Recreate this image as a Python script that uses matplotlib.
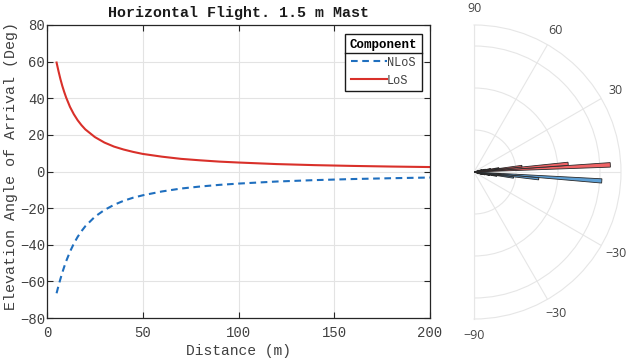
import numpy as np
import matplotlib
matplotlib.use("Agg")
import matplotlib.pyplot as plt
from matplotlib.lines import Line2D

# ---- data ----
distance = [5, 6, 7, 8, 9, 10, 12, 14, 16, 18, 20, 25, 30, 35, 40, 45, 50,
            60, 70, 80, 90, 100, 120, 140, 160, 180, 200]
los_deg = [59.5, 54.8, 50.5, 46.7, 43.4, 40.4, 35.3, 31.3, 28.0, 25.3, 23.0,
           18.8, 15.8, 13.6, 12.0, 10.7, 9.6, 8.1, 6.9, 6.1, 5.4, 4.9,
           4.05, 3.47, 3.04, 2.70, 2.43]
nlos_deg = [-66.5, -62.4, -58.7, -55.2, -52.0, -49.0, -43.8, -39.4, -35.7,
            -32.6, -29.9, -24.7, -21.0, -18.2, -16.0, -14.3, -13.0, -10.9,
            -9.3, -8.2, -7.3, -6.6, -5.47, -4.70, -4.11, -3.66, -3.29]

los_bin_deg = [3.0, 5.0, 7.0, 9.0, 11.0, 13.0, 16.0]
los_bin_r = [3.25, 2.25, 1.15, 0.6, 0.4, 0.28, 0.2]
nlos_bin_deg = [-4.0, -6.0, -8.0, -10.0, -12.0, -14.0, -17.0]
nlos_bin_r = [3.05, 1.55, 0.95, 0.55, 0.38, 0.27, 0.2]

theta_ticks = [-90, -60, -30, 0, 30, 60, 90]
theta_labels = ['\u221290', '\u221230', '\u221230', '', '30', '60', '90']

# ---- figure ----
W, H = 626, 361
fig = plt.figure(figsize=(W/100, H/100), dpi=100)
mono = 'Liberation Mono'
txt = '#404040'

# ---- polar panel (square box so the half disc fills the target area) ----
R = 147
cx, cy = 474, 172
pax = fig.add_axes([(cx - R/2)/W, 1-(cy+R)/H, 2*R/W, 2*R/H], projection='polar')
pax.set_thetamin(-90)
pax.set_thetamax(90)
pax.set_rlim(0, 3.5)
pax.set_rticks([1, 2, 3])
pax.set_yticklabels([])
pax.set_thetagrids(theta_ticks, theta_labels)
pax.tick_params(axis='x', pad=1.5, labelsize=9, labelcolor='#444444')
for lab in pax.get_xticklabels():
    lab.set_fontfamily('Open Sans')
pax.grid(True, color='#e6e6e6', lw=0.8)
for s in pax.spines.values():
    s.set_color('#e6e6e6')
    s.set_linewidth(0.8)

w = np.deg2rad(1.9)
pax.bar(np.deg2rad(los_bin_deg), los_bin_r, width=w, bottom=0,
        color='#f06466', edgecolor='#2a2a2a', linewidth=0.6, zorder=3)
pax.bar(np.deg2rad(nlos_bin_deg), nlos_bin_r, width=w, bottom=0,
        color='#5ea0d5', edgecolor='#2a2a2a', linewidth=0.6, zorder=3)

# ---- cartesian panel ----
ax = fig.add_axes([47/W, 1-318/H, (430-47)/W, (318-25)/H])
ax.set_zorder(2)
ax.plot(distance, nlos_deg, color='#1f6fbf', lw=1.5, ls=(0, (3.2, 2.2)), label='NLoS')
ax.plot(distance, los_deg, color='#d9302a', lw=1.5, label='LoS')
ax.set_xlim(0, 200)
ax.set_ylim(-80, 80)
ax.set_xticks([0, 50, 100, 150, 200])
ax.set_yticks(range(-80, 81, 20))
ax.grid(True, color='#e3e3e3', lw=0.8)
ax.set_axisbelow(True)
ax.tick_params(direction='in', top=True, right=True, length=4, width=0.8,
               labelsize=10, colors='#262626', labelcolor=txt)
ax.tick_params(axis='y', pad=1.5)
ax.tick_params(axis='x', pad=6)
for lab in ax.get_xticklabels() + ax.get_yticklabels():
    lab.set_fontfamily(mono)
for s in ax.spines.values():
    s.set_color('#262626')
    s.set_linewidth(0.9)
ax.set_title('Horizontal Flight. 1.5 m Mast', fontfamily=mono, fontweight='bold',
             fontsize=10.8, color='#1a1a1a', pad=6)
ax.set_xlabel('Distance (m)', fontfamily=mono, fontsize=10.5, color=txt, labelpad=3)
ax.set_ylabel('Elevation Angle of Arrival (Deg)', fontfamily=mono, fontsize=10.8,
              color=txt)
ax.yaxis.set_label_coords((18 - 47) / 383, (318 - 166) / 293)

leg = ax.legend(title='Component', loc='upper right', frameon=True, fancybox=False,
                edgecolor='#1a1a1a', framealpha=1, handlelength=3.0,
                handletextpad=0.0, borderpad=0.4, labelspacing=0.5,
                prop={'family': mono, 'size': 8.6},
                title_fontproperties={'family': mono, 'size': 9.0, 'weight': 'bold'},
                bbox_to_anchor=(0.994, 0.99))
leg.get_frame().set_linewidth(1.0)
for t in leg.get_texts():
    t.set_color(txt)

fig.canvas.draw()
# separator line below legend title
fb = leg.get_frame().get_window_extent()
tb = leg.get_title().get_window_extent()
ysep = tb.y0 - 2
inv = fig.transFigure.inverted()
(x0, y0), (x1, _) = inv.transform([(fb.x0, ysep), (fb.x1, ysep)])
fig.add_artist(Line2D([x0, x1], [y0, y0], color='#1a1a1a', lw=1.0, zorder=10))

fig.savefig('out.png', dpi=100)
